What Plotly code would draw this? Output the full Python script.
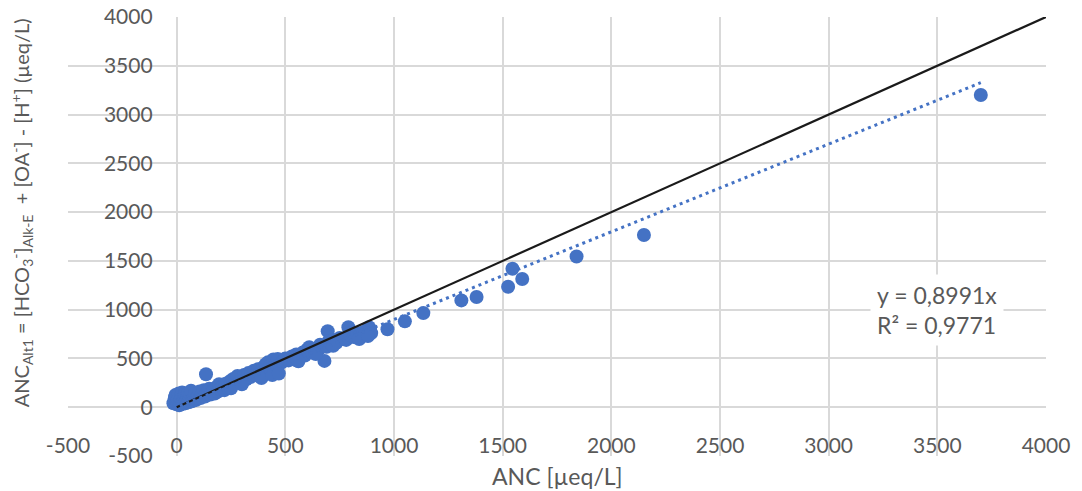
import plotly.graph_objects as go

# ANC (x) and ANC_Alt1 (y) values, in µeq/L
anc = [-15, -10, -8, -5, 0, 2, 5, 8, 10, 12, 15, 18, 20, 22, 25, 28, 30, 33, 35, 38,
       40, 45, 48, 50, 52, 55, 58, 60, 63, 66, 70, 75, 80, 85, 90, 95, 100, 105, 110, 115,
       120, 125, 130, 135, 140, 145, 150, 155, 160, 170, 175, 180, 190, 195, 200, 210, 220, 225, 235, 245,
       250, 260, 270, 280, 290, 300, 310, 320, 330, 340, 355, 360, 375, 385, 400, 410, 420, 430, 445, 455,
       465, 480, 490, 500, 515, 530, 540, 550, 565, 580, 590, 600, 610, 620, 635, 650, 660, 680, 690, 695,
       700, 710, 720, 735, 750, 765, 780, 790, 800, 815, 830, 845, 860, 870, 885, 890, 895,
       250, 300, 390, 440, 470, 560, 640, 720, 840, 880,
       970, 1050, 1135, 1310, 1380, 1525, 1545, 1590, 1840, 2150, 3700]
alt1 = [40, 70, 100, 125, 30, 55, 80, 110, 140, 20, 45, 70, 95, 120, 150, 35, 60, 85, 110, 135,
        40, 65, 90, 115, 145, 50, 75, 100, 130, 170, 60, 85, 110, 140, 75, 100, 125, 160, 95, 120,
        145, 175, 110, 338, 135, 165, 190, 130, 150, 175, 140, 200, 160, 235, 185, 210, 175, 240, 200, 265,
        230, 290, 250, 320, 270, 300, 330, 285, 350, 310, 375, 330, 390, 350, 410, 440, 460, 420, 490, 440,
        495, 455, 470, 500, 480, 520, 490, 540, 510, 560, 530, 590, 615, 560, 600, 580, 640, 475, 620, 780,
        680, 650, 690, 660, 710, 700, 690, 820, 740, 720, 760, 740, 770, 760, 820, 790, 760,
        195, 235, 300, 330, 345, 470, 545, 630, 700, 730,
        800, 880, 965, 1095, 1130, 1235, 1420, 1315, 1545, 1765, 3200]

# 1:1 reference line
ref_x = [0, 4000]
ref_y = [0, 4000]

# linear trendline through origin (Excel label)
slope = 0.8991
r2 = 0.9771

trend_x = [min(anc), max(anc)]
trend_y = [slope * v for v in trend_x]

tick_vals = list(range(-500, 4001, 500))
tick_text = [str(v) for v in tick_vals]

grey = "#595959"
font_family = "Lato"

fig = go.Figure()
fig.add_trace(go.Scatter(x=anc, y=alt1, mode="markers",
                         marker=dict(color="#4472C4", size=14, line=dict(width=0)),
                         showlegend=False))
fig.add_trace(go.Scatter(x=ref_x, y=ref_y, mode="lines",
                         line=dict(color="#1a1a1a", width=2.2), showlegend=False))
fig.add_trace(go.Scatter(x=trend_x, y=trend_y, mode="lines",
                         line=dict(color="#4472C4", width=3, dash="3px,4px"), showlegend=False))

axis_common = dict(range=[-500, 4000], tickvals=tick_vals, ticktext=tick_text,
                   showgrid=True, gridcolor="#d9d9d9", gridwidth=1.5,
                   zeroline=False, showline=False, ticks="", automargin=False,
                   ticklabeloverflow="allow",
                   tickfont=dict(family=font_family, size=21, color=grey),
                   anchor="free", position=1/9)

fig.update_layout(
    width=1074, height=483,
    margin=dict(l=60, r=36, t=9, b=35, autoexpand=False),
    paper_bgcolor="white", plot_bgcolor="white",
    xaxis=dict(**axis_common, ticklabelstandoff=24),
    yaxis=dict(**axis_common, ticklabelstandoff=24),
    font=dict(family=font_family, color=grey),
    annotations=[
        dict(text="ANC [µeq/L]", xref="paper", yref="paper", x=0.5, y=-0.046,
             xanchor="center", yanchor="middle", showarrow=False,
             font=dict(family=font_family, size=23, color=grey)),
        dict(text="ANC<sub>Alt1</sub> = [HCO<sub>3</sub><sup>-</sup>]<sub>Alk-E</sub> &nbsp;+ [OA<sup>-</sup>] - [H<sup>+</sup>] (µeq/L)",
             xref="paper", yref="paper", x=-0.047, y=0.553, textangle=-90,
             xanchor="center", yanchor="middle", showarrow=False,
             font=dict(family=font_family, size=20, color=grey)),
        dict(text=f"y = {str(slope).replace('.', ',')}x<br>R² = {str(r2).replace('.', ',')}",
             xref="x", yref="y", x=3500, y=1000, xanchor="center", yanchor="middle",
             showarrow=False, bgcolor="white", borderpad=6, align="left",
             font=dict(family=font_family, size=23, color=grey)),
    ],
)

fig.write_html("out.html")
